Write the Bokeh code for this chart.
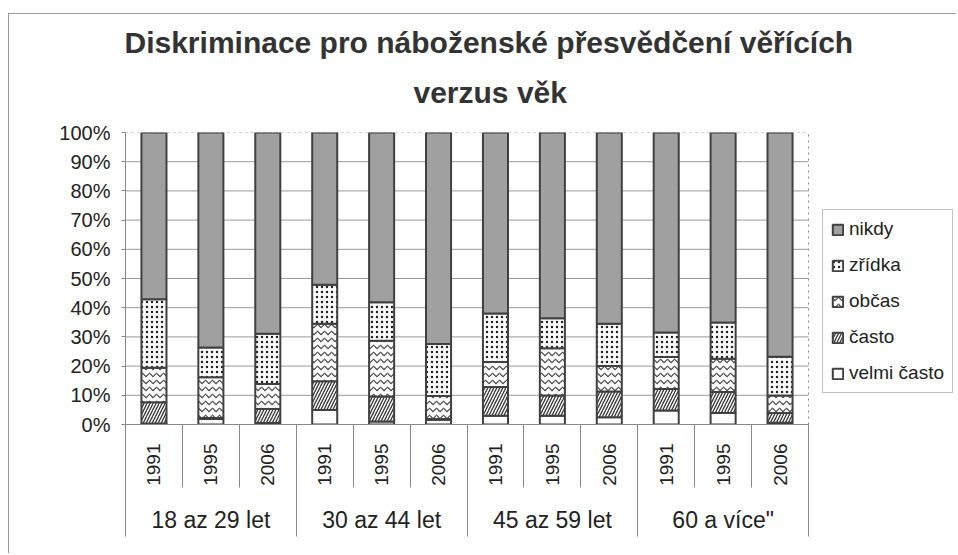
import math
from bokeh.plotting import figure
from bokeh.models import (ColumnDataSource, Legend, LegendItem, Title, Range1d,
                          FixedTicker, NumeralTickFormatter, LinearAxis)
from bokeh.embed import file_html
from bokeh.resources import INLINE

# ---- data (percent) ----
groups = ["18 az 29 let", "30 az 44 let", "45 az 59 let", '60 a více"']
years = ["1991", "1995", "2006"]
velmi_casto = [0.3, 1.9, 0.5, 5.0, 1.0, 1.6, 3.0, 3.0, 2.5, 4.8, 3.9, 0.6]
casto = [7.3, 0.3, 4.8, 9.8, 8.6, 0.3, 9.8, 6.9, 8.8, 7.4, 7.2, 3.3]
obcas = [11.8, 14.0, 8.6, 19.7, 19.1, 7.9, 8.6, 16.2, 8.7, 10.9, 11.4, 6.0]
zridka = [23.5, 10.2, 17.2, 13.4, 13.2, 17.8, 16.6, 10.3, 14.5, 8.4, 12.4, 13.3]
nikdy = [57.1, 73.6, 68.9, 52.1, 58.1, 72.4, 62.0, 63.6, 65.5, 68.5, 65.1, 76.8]
series_names = ["velmi často", "často", "občas", "zřídka", "nikdy"]
y_ticks = [0.0, 0.1, 0.2, 0.3, 0.4, 0.5, 0.6, 0.7, 0.8, 0.9, 1.0]

factors = [(g, y) for g in groups for y in years]
n = len(factors)
ny = len(years)
centers = [i + 0.5 for i in range(n)]
keys = ["velmi_casto", "casto", "obcas", "zridka", "nikdy"]
src = ColumnDataSource(data=dict(
    x=centers,
    velmi_casto=[v / 100 for v in velmi_casto],
    casto=[v / 100 for v in casto],
    obcas=[v / 100 for v in obcas],
    zridka=[v / 100 for v in zridka],
    nikdy=[v / 100 for v in nikdy],
))

FONT = "Liberation Sans"

# frame also holds the legend area on the right (bars occupy 0..n)
p = figure(x_range=Range1d(0, n * 832 / 683), y_range=Range1d(0, 1),
           width=948, height=540, output_backend="svg",
           toolbar_location=None, x_axis_location=None,
           min_border_left=116, min_border_right=0,
           min_border_top=118, min_border_bottom=130)
p.styles = {"margin-left": "8px", "margin-top": "13px",
            "border-top": "1px solid #9a9a9a", "border-left": "1px solid #9a9a9a"}
p.outline_line_color = None
p.xgrid.visible = False
p.ygrid.visible = False

# grid lines limited to the bar area, dotted frame on top and right
inner = y_ticks[1:-1]
p.segment(x0=[0] * len(inner), x1=[n] * len(inner), y0=inner, y1=inner,
          line_color="#9a9a9a", line_width=1)
p.segment(x0=[0, n], x1=[n, n], y0=[y_ticks[-1], 0], y1=[y_ticks[-1], y_ticks[-1]],
          line_color="#888888", line_width=1, line_dash="dotted")

renderers = p.vbar_stack(
    keys, x="x", width=0.44, source=src,
    fill_color=["white", "white", "white", "white", "#a0a0a0"],
    line_color="#404040", line_width=2,
    hatch_pattern=[" ", "right_diagonal_line", "horizontal_wave", "dot", " "],
    hatch_color=["#333333", "#333333", "#444444", "#222222", "#333333"],
    hatch_scale=[6, 6, 7, 5, 6],
    hatch_weight=[1, 1.3, 1.2, 3, 1],
)

# titles (second line added first so it sits nearer the plot)
p.add_layout(Title(text="verzus věk", align="left", offset=288, text_font=FONT,
                   text_font_size="30px", text_font_style="bold", text_color="#333333",
                   standoff=48), "above")
p.add_layout(Title(text="Diskriminace pro náboženské přesvědčení věřících", align="left",
                   offset=-1, text_font=FONT, text_font_size="30px", text_font_style="bold",
                   text_color="#333333", standoff=-19), "above")

# y axis
p.yaxis.ticker = FixedTicker(ticks=y_ticks)
p.yaxis.formatter = NumeralTickFormatter(format="0%")
p.yaxis.major_label_text_font = FONT
p.yaxis.major_label_text_font_size = "20px"
p.yaxis.major_label_text_color = "#222222"
p.yaxis.axis_line_color = "#888888"
p.yaxis.major_tick_line_color = "#888888"
p.yaxis.major_tick_out = 4
p.yaxis.major_tick_in = 0
p.yaxis.minor_tick_line_color = None
p.yaxis.major_label_standoff = 11

# category axes: years row and age-group row, with separator lines between categories
bounds = list(range(n + 1))
year_axis = LinearAxis(ticker=FixedTicker(ticks=centers, minor_ticks=bounds),
                       bounds=(0, n),
                       major_label_overrides={c: f[1] for c, f in zip(centers, factors)},
                       major_label_orientation=math.pi / 2,
                       major_label_text_font=FONT, major_label_text_font_size="19px",
                       major_label_text_color="#222222", major_label_standoff=-44,
                       axis_line_color="#888888", major_tick_line_color=None,
                       minor_tick_line_color="#888888", minor_tick_in=0, minor_tick_out=63)
p.add_layout(year_axis, "below")

g_centers = [k * ny + ny / 2 for k in range(len(groups))]
g_bounds = [k * ny for k in range(len(groups) + 1)]
group_axis = LinearAxis(ticker=FixedTicker(ticks=g_centers, minor_ticks=g_bounds),
                        bounds=(0, n),
                        major_label_overrides={c: g for c, g in zip(g_centers, groups)},
                        major_label_text_font=FONT, major_label_text_font_size="23px",
                        major_label_text_color="#222222", major_label_standoff=-30,
                        axis_line_color=None, major_tick_line_color=None,
                        minor_tick_line_color="#888888", minor_tick_in=63, minor_tick_out=48)
p.add_layout(group_axis, "below")

# legend (inside the widened frame, to the right of the bars)
items = [LegendItem(label=series_names[i], renderers=[renderers[i]]) for i in [4, 3, 2, 1, 0]]
legend = Legend(items=items, location=(697, 31), label_text_font=FONT,
                label_text_font_size="19px", label_text_color="#222222",
                glyph_width=13, glyph_height=13, label_height=21, spacing=14,
                padding=8, margin=0, label_standoff=5,
                border_line_color="#888888", border_line_width=1,
                background_fill_color="white", background_fill_alpha=1)
p.add_layout(legend, "center")

open("out.html", "w").write(file_html(p, INLINE))
